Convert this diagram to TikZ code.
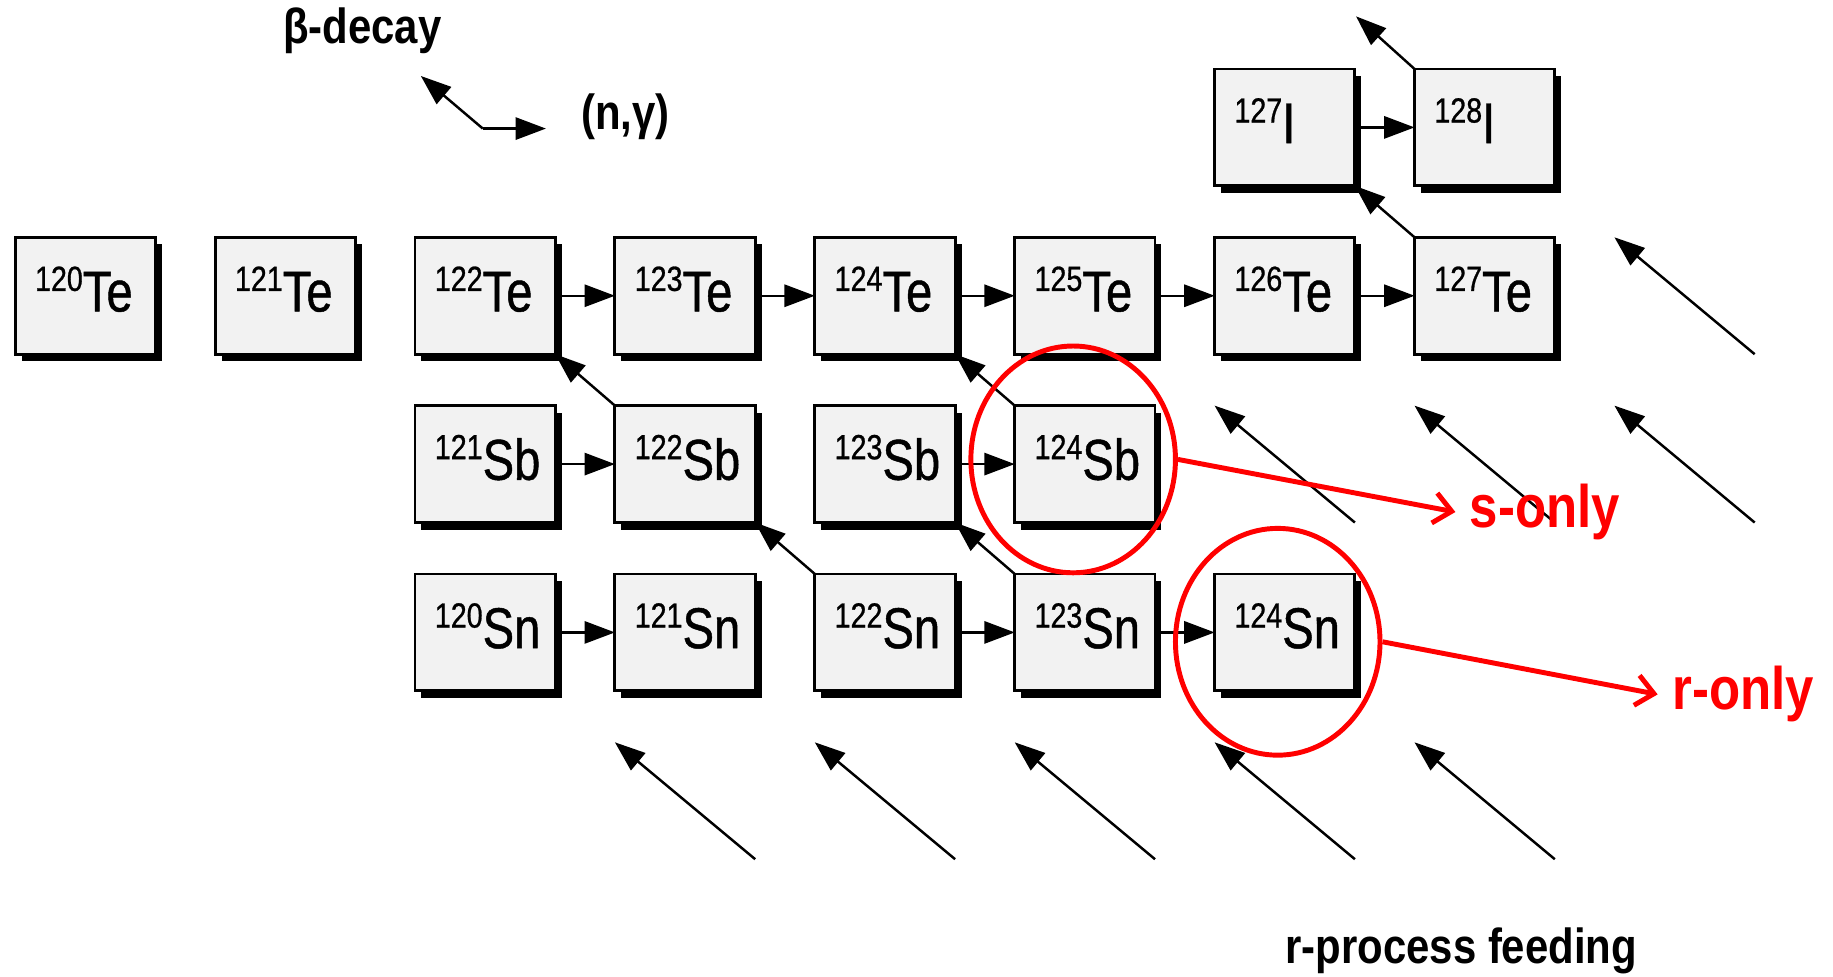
\documentclass[tikz,border=0pt]{standalone}
\usepackage{fontspec}
\setmainfont{Liberation Sans}[FakeStretch=0.85]
\newfontfamily\nucfont{Liberation Sans}[FakeStretch=0.82, RawFeature={embolden=0.8}]
\usepackage{tikz}
\usetikzlibrary{arrows.meta,positioning,calc,shadows,shapes.geometric}

\newcommand{\iso}[2]{\raisebox{5pt}{\fontsize{8.5}{9}\selectfont#1}#2}

\begin{document}
\begin{tikzpicture}[
      node distance=4.4mm and 5.1mm,
      every node/.style={font=\fontsize{12}{14}\selectfont},
      nuc/.style={draw, line width=0.7pt, fill=black!5, outer sep=0pt,
                  minimum height=10mm, text width=8.6mm, inner xsep=1.7mm,
                  align=left, text depth=3.3pt,
                  font=\nucfont\fontsize{14}{16}\selectfont,
                  drop shadow={shadow xshift=0.55mm, shadow yshift=-0.6mm,
                               fill=black, opacity=1}},
      arr/.style={-{Triangle[length=2.6mm, width=1.9mm]}, line width=0.6pt},
      lbl/.style={font=\fontsize{12}{14}\selectfont\bfseries},
      ring/.style={ellipse, draw=red, line width=1.2pt, inner sep=0pt,
                   minimum width=17.5mm, minimum height=19.4mm},
      redarr/.style={-{Straight Barb[length=1.5mm, width=2.6mm]}, red,
                     line width=1.2pt},
      tag/.style={font=\fontsize{14.6}{16}\selectfont\bfseries, text=red},
    ]
    \useasboundingbox (-0.73,2.53) rectangle (14.95,-5.82);

    % ── Legend ──────────────────────────────────────────────
    \node[lbl] (betalbl) at (2.37,2.27) {β-decay};
    \node[lbl] (nglbl)   at (4.62,1.53) {(n,γ)};
    \coordinate (legcorner) at (3.40,1.43);
    \coordinate (betatip)   at (2.87,1.88);
    \coordinate (ngtip)     at (3.94,1.43);

    % ── Te row ──────────────────────────────────────────────
    \node[nuc] (te120) at (0,0) {\iso{120}{Te}};
    \node[nuc, right=of te120] (te121) {\iso{121}{Te}};
    \node[nuc, right=of te121] (te122) {\iso{122}{Te}};
    \node[nuc, right=of te122] (te123) {\iso{123}{Te}};
    \node[nuc, right=of te123] (te124) {\iso{124}{Te}};
    \node[nuc, right=of te124] (te125) {\iso{125}{Te}};
    \node[nuc, right=of te125] (te126) {\iso{126}{Te}};
    \node[nuc, right=of te126] (te127) {\iso{127}{Te}};

    % ── I row ───────────────────────────────────────────────
    \node[nuc, above=of te126] (i127) {\iso{127}{I}};
    \node[nuc, above=of te127] (i128) {\iso{128}{I}};

    % ── Sb row ──────────────────────────────────────────────
    \node[nuc, below=of te122] (sb121) {\iso{121}{Sb}};
    \node[nuc, right=of sb121] (sb122) {\iso{122}{Sb}};
    \node[nuc, right=of sb122] (sb123) {\iso{123}{Sb}};
    \node[nuc, right=of sb123] (sb124) {\iso{124}{Sb}};

    % ── Sn row ──────────────────────────────────────────────
    \node[nuc, below=of sb121] (sn120) {\iso{120}{Sn}};
    \node[nuc, right=of sn120] (sn121) {\iso{121}{Sn}};
    \node[nuc, right=of sn121] (sn122) {\iso{122}{Sn}};
    \node[nuc, right=of sn122] (sn123) {\iso{123}{Sn}};
    \node[nuc, right=of sn123] (sn124) {\iso{124}{Sn}};

    % ── Neutron captures ────────────────────────────────────
    \draw[arr] (legcorner) -- (ngtip);
    \draw[arr] (te122) -- (te123);
    \draw[arr] (te123) -- (te124);
    \draw[arr] (te124) -- (te125);
    \draw[arr] (te125) -- (te126);
    \draw[arr] (te126) -- (te127);
    \draw[arr] (i127)  -- (i128);
    \draw[arr] (sb121) -- (sb122);
    \draw[arr] (sb123) -- (sb124);
    \draw[arr] (sn120) -- (sn121);
    \draw[arr] (sn122) -- (sn123);
    \draw[arr] (sn123) -- (sn124);

    % ── Beta decays ─────────────────────────────────────────
    \coordinate (itop) at ($(i128.north west)+(-0.5,0.45)$);
    \draw[arr] (legcorner) -- (betatip);
    \draw[arr] (sb122.north west) -- (te122.south east);
    \draw[arr] (sb124.north west) -- (te124.south east);
    \draw[arr] (sn122.north west) -- (sb122.south east);
    \draw[arr] (sn123.north west) -- (sb123.south east);
    \draw[arr] (te127.north west) -- (i127.south east);
    \draw[arr] (i128.north west)  -- (itop);

    % ── r-process feeding ───────────────────────────────────
    \coordinate (tefeed8) at (13.68,0);
    \draw[arr] ([shift={(0.6,-0.5)}]tefeed8) -- ([shift={(-0.6,0.5)}]tefeed8);
    \foreach \c in {6,7,8} {
      \coordinate (sbfeed\c) at (1.71*\c,-1.44);
      \draw[arr] ([shift={(0.6,-0.5)}]sbfeed\c) -- ([shift={(-0.6,0.5)}]sbfeed\c);
    }
    \foreach \c in {3,...,7} {
      \coordinate (lowfeed\c) at (1.71*\c,-4.32);
      \draw[arr] ([shift={(0.6,-0.5)}]lowfeed\c) -- ([shift={(-0.6,0.5)}]lowfeed\c);
    }
    \node[lbl] (feedlbl) at (11.77,-5.60) {r-process feeding};

    % ── s-only / r-only ─────────────────────────────────────
    \node[ring] (sbring) at ([shift={(-1mm,0.4mm)}]sb124.center) {};
    \node[ring] (snring) at ([shift={(-0.6mm,-0.8mm)}]sn124.center) {};
    \node[tag, anchor=west] (sonly) at (11.72,-1.85) {s-only};
    \node[tag, anchor=west] (ronly) at (13.45,-3.41) {r-only};
    \draw[redarr] (sbring.east) -- (sonly.west);
    \draw[redarr] (snring.east) -- (ronly.west);
  \end{tikzpicture}
\end{document}
